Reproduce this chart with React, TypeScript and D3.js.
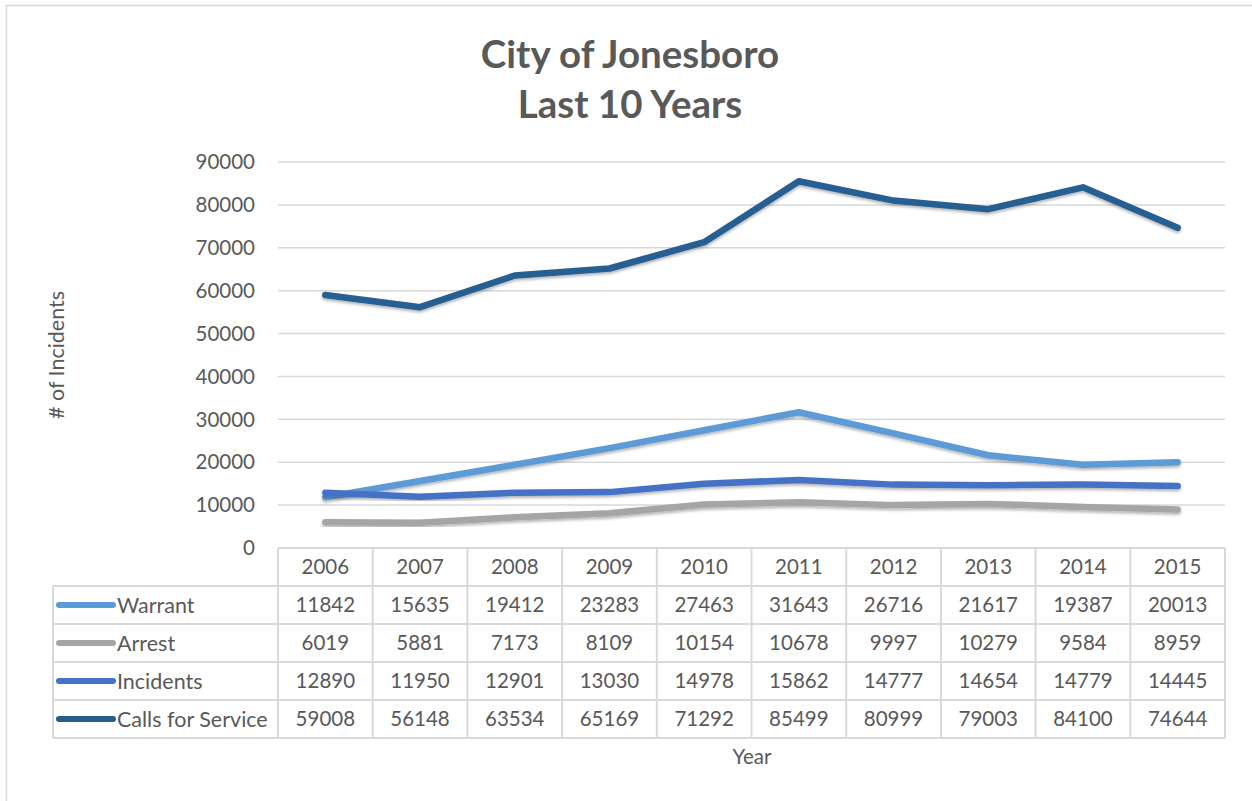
import React from 'react';
import {scaleBand, scaleLinear, line} from 'd3';

// données
const years = ['2006', '2007', '2008', '2009', '2010', '2011', '2012', '2013', '2014', '2015'];
const warrant = [11842, 15635, 19412, 23283, 27463, 31643, 26716, 21617, 19387, 20013];
const arrest = [6019, 5881, 7173, 8109, 10154, 10678, 9997, 10279, 9584, 8959];
const incidents = [12890, 11950, 12901, 13030, 14978, 15862, 14777, 14654, 14779, 14445];
const calls = [59008, 56148, 63534, 65169, 71292, 85499, 80999, 79003, 84100, 74644];
const yTicks = [0, 10000, 20000, 30000, 40000, 50000, 60000, 70000, 80000, 90000];

const series = [
  {name: 'Warrant', values: warrant, color: '#5B9BD5'},
  {name: 'Arrest', values: arrest, color: '#A5A5A5'},
  {name: 'Incidents', values: incidents, color: '#4472C4'},
  {name: 'Calls for Service', values: calls, color: '#255E91'}
];

const FONT = 'Lato, "Open Sans", sans-serif';
const TXT = '#595959';
const GRID = '#d9d9d9';

export default function App() {
  const width = 1252;
  const height = 801;
  const left = 278;
  const right = 1225;
  const top = 162;
  const bottom = 548;
  const rowH = 38;
  const legendLeft = 53;
  const fs = 20.5;

  const x = scaleBand<string>().domain(years).range([left, right]);
  const y = scaleLinear().domain([0, 90000]).range([bottom, top]);

  const path = line<number>()
    .x((d, i) => (x(years[i]) as number) + x.bandwidth() / 2)
    .y(d => y(d));

  const tableBottom = bottom + rowH * (series.length + 1);

  return (
    <div style={{position: 'absolute', left: 0, top: 0}}>
      <svg width={width} height={height} style={{display: 'block', fontFamily: FONT}}>
        <defs>
          <filter id="shadow" x="-5%" y="-20%" width="110%" height="140%">
            <feDropShadow dx="0" dy="2" stdDeviation="1.5" floodColor="#000" floodOpacity="0.3" />
          </filter>
        </defs>
        <rect x={0} y={0} width={width} height={height} fill="#fff" />
        <rect x={6.5} y={5.5} width={width + 10} height={height + 10} fill="none" stroke={GRID} strokeWidth={1.5} />

        <text x={630} y={68} textAnchor="middle" fontSize={38.5} fontWeight="bold" fill={TXT}>
          City of Jonesboro
        </text>
        <text x={630} y={118} textAnchor="middle" fontSize={38.5} fontWeight="bold" fill={TXT}>
          Last 10 Years
        </text>

        {yTicks.map(t => (
          <g key={t}>
            {t > 0 && <line x1={left} x2={right} y1={y(t)} y2={y(t)} stroke={GRID} strokeWidth={1.5} />}
            <text x={255} y={y(t)} dy="0.35em" textAnchor="end" fontSize={fs} fill={TXT}>
              {t}
            </text>
          </g>
        ))}

        <text
          transform={`translate(64,${355}) rotate(-90)`}
          textAnchor="middle"
          fontSize={21.5}
          fill={TXT}
        >
          # of Incidents
        </text>

        {series.map(s => (
          <path
            key={s.name}
            d={path(s.values) as string}
            fill="none"
            stroke={s.color}
            strokeWidth={6.5}
            strokeLinejoin="round"
            strokeLinecap="round"
            filter="url(#shadow)"
          />
        ))}

        {/* table des données */}
        <g stroke={GRID} strokeWidth={2} fill="none">
          <line x1={left} x2={right} y1={bottom} y2={bottom} />
          {series.map((s, i) => (
            <line key={s.name} x1={legendLeft} x2={right} y1={bottom + rowH * (i + 1)} y2={bottom + rowH * (i + 1)} />
          ))}
          <line x1={legendLeft} x2={right} y1={tableBottom} y2={tableBottom} />
          <line x1={legendLeft} x2={legendLeft} y1={bottom + rowH} y2={tableBottom} />
          {years.map(yr => (
            <line key={yr} x1={x(yr)} x2={x(yr)} y1={bottom} y2={tableBottom} />
          ))}
          <line x1={right} x2={right} y1={bottom} y2={tableBottom} />
        </g>

        {years.map(yr => (
          <text
            key={yr}
            x={(x(yr) as number) + x.bandwidth() / 2}
            y={bottom + rowH / 2}
            dy="0.35em"
            textAnchor="middle"
            fontSize={fs}
            fill={TXT}
          >
            {yr}
          </text>
        ))}

        {series.map((s, i) => {
          const cy = bottom + rowH * (i + 1) + rowH / 2;
          return (
            <g key={s.name}>
              <line x1={59} x2={113} y1={cy} y2={cy} stroke={s.color} strokeWidth={6} strokeLinecap="round" />
              <text x={117} y={cy} dy="0.35em" fontSize={21.5} fill={TXT}>
                {s.name}
              </text>
              {s.values.map((v, j) => (
                <text
                  key={j}
                  x={(x(years[j]) as number) + x.bandwidth() / 2}
                  y={cy}
                  dy="0.35em"
                  textAnchor="middle"
                  fontSize={fs}
                  fill={TXT}
                >
                  {v}
                </text>
              ))}
            </g>
          );
        })}

        <text x={752} y={764} textAnchor="middle" fontSize={fs} fill={TXT}>
          Year
        </text>
      </svg>
    </div>
  );
}
